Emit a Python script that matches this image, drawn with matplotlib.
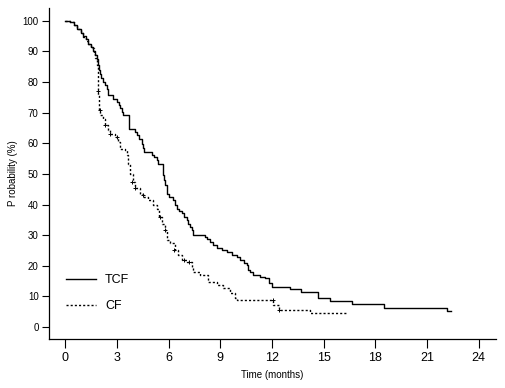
import matplotlib
matplotlib.use("Agg")
import matplotlib.pyplot as plt
from matplotlib.lines import Line2D

plt.rcParams['font.family'] = ['Liberation Sans', 'DejaVu Sans']

# TCF (solid) Kaplan-Meier steps: time (months), survival (%)
tcf_time = [0, 0.3, 0.5, 0.7, 0.9, 1.05, 1.2, 1.35, 1.5, 1.63, 1.72, 1.82, 1.88, 1.95,
            2.01, 2.1, 2.2, 2.3, 2.4, 2.5, 2.79, 2.98, 3.1, 3.17, 3.3, 3.37, 3.71,
            4.05, 4.15, 4.3, 4.43, 4.5, 4.59, 5.05, 5.15, 5.3, 5.4, 5.69, 5.75, 5.79,
            5.88, 6.0, 6.27, 6.35, 6.47, 6.6, 6.76, 6.9, 7.04, 7.15, 7.25, 7.34, 7.43,
            8.11, 8.25, 8.4, 8.6, 8.79, 9.1, 9.37, 9.7, 9.95, 10.14, 10.35, 10.53,
            10.62, 10.7, 10.91, 11.3, 11.59, 11.8, 11.98, 13.04, 13.66, 14.68, 15.36,
            16.62, 18.5, 22.17, 22.37]
tcf_surv = [100, 99.5, 98.5, 97.5, 96, 95, 94, 92.6, 91.5, 90, 89, 87.7, 85.5, 84,
            82.8, 81.5, 80, 79, 77.9, 75.7, 74.6, 73.5, 72.5, 71.4, 70.3, 69.2, 64.8,
            63.7, 62.6, 61.5, 59.9, 58.5, 57.2, 56.1, 55.6, 54.5, 53.2, 49.6, 48, 46.3,
            43.6, 42.5, 41.4, 40, 38.7, 38, 37.1, 36, 34.9, 33.8, 32.7, 31.6, 30,
            29.5, 28.6, 27.8, 26.8, 25.7, 25.1, 24.6, 23.5, 22.9, 21.9, 21, 20.2,
            18.5, 18, 17, 16.5, 15.9, 14.5, 13.1, 12.4, 11.3, 9.4, 8.5,
            7.4, 6.3, 5.4, 5.4]

# CF (dashed) Kaplan-Meier steps
cf_time = [0, 0.3, 0.5, 0.7, 0.9, 1.05, 1.2, 1.35, 1.5, 1.65, 1.75, 1.82, 1.88, 1.97,
           2.01, 2.2, 2.3, 2.5, 2.59, 2.88, 3.08, 3.17, 3.46, 3.56, 3.66, 3.75, 3.91,
           4.05, 4.34, 4.53, 4.82, 5.1, 5.34, 5.46, 5.6, 5.79, 5.88, 6.08, 6.37, 6.56,
           6.76, 7.04, 7.34, 7.43, 7.82, 8.3, 8.79, 9.17, 9.56, 9.85, 9.95, 12.07,
           12.42, 14.2, 16.33]
cf_surv = [100, 99.5, 98.5, 97.5, 96, 94.7, 93.5, 92.5, 91, 89.5, 88, 85.5, 75.7, 70.8,
           69.2, 68.1, 65.9, 64.3, 63.2, 62.1, 60.5, 58.3, 57.7, 56.1, 53.4, 50.1, 47.4,
           45.3, 43.6, 42.5, 41.4, 39.8, 38.7, 36, 33.8, 31.6, 28.4, 27.3, 25.1, 23.5,
           21.9, 21.3, 19.7, 18, 17, 14.8, 13.7, 12.6, 11, 9.4, 8.8, 7.2,
           5.5, 4.5, 4.5]

# censor marks on CF
cf_cens_t = [1.9, 2.0, 2.3, 2.6, 3.0, 3.9, 4.05, 4.5, 5.5, 5.8, 6.3, 6.9, 7.2, 12.05, 12.4]
cf_cens_s = [77, 71, 66, 63.2, 62.1, 47.4, 45.3, 43.0, 36, 31.6, 25.1, 21.9, 21.3, 8.8, 5.5]

xticks = [0, 3, 6, 9, 12, 15, 18, 21, 24]
yticks = [0, 10, 20, 30, 40, 50, 60, 70, 80, 90, 100]

fig = plt.figure(figsize=(5.05, 3.88), dpi=100)
ax = fig.add_axes([49/505, 1-339/388, (496-49)/505, (339-8)/388])

ax.step(tcf_time, tcf_surv, where='post', color='black', lw=1.0)
ax.step(cf_time, cf_surv, where='post', color='black', lw=1.0, ls=(0, (1.5, 1.5)))
ax.plot(cf_cens_t, cf_cens_s, ls='none', marker='+', ms=3, mew=0.7, color='black')

ax.set_xlim(-0.94, 25.0)
ax.set_ylim(-3.9, 104.2)
ax.set_xticks(xticks)
ax.set_yticks(yticks)
ax.tick_params(axis='x', length=6.5, width=0.8, pad=3, labelsize=9)
ax.tick_params(axis='y', length=5, width=0.8, pad=2.5, labelsize=7)
for s in ['top', 'right']:
    ax.spines[s].set_visible(False)
for s in ['left', 'bottom']:
    ax.spines[s].set_linewidth(0.9)

ax.set_xlabel('Time (months)', fontsize=7, labelpad=4)
ax.set_ylabel('P robability (%)', fontsize=7, labelpad=3)

handles = [Line2D([], [], color='black', lw=1.0),
           Line2D([], [], color='black', lw=1.0, ls=(0, (1.5, 1.5)))]
ax.legend(handles, ['TCF', 'CF'], frameon=False, fontsize=9,
          loc='upper left', bbox_to_anchor=(0.012, 0.23),
          handlelength=2.4, handletextpad=0.75, labelspacing=1.15)

fig.savefig('out.png', dpi=100)
